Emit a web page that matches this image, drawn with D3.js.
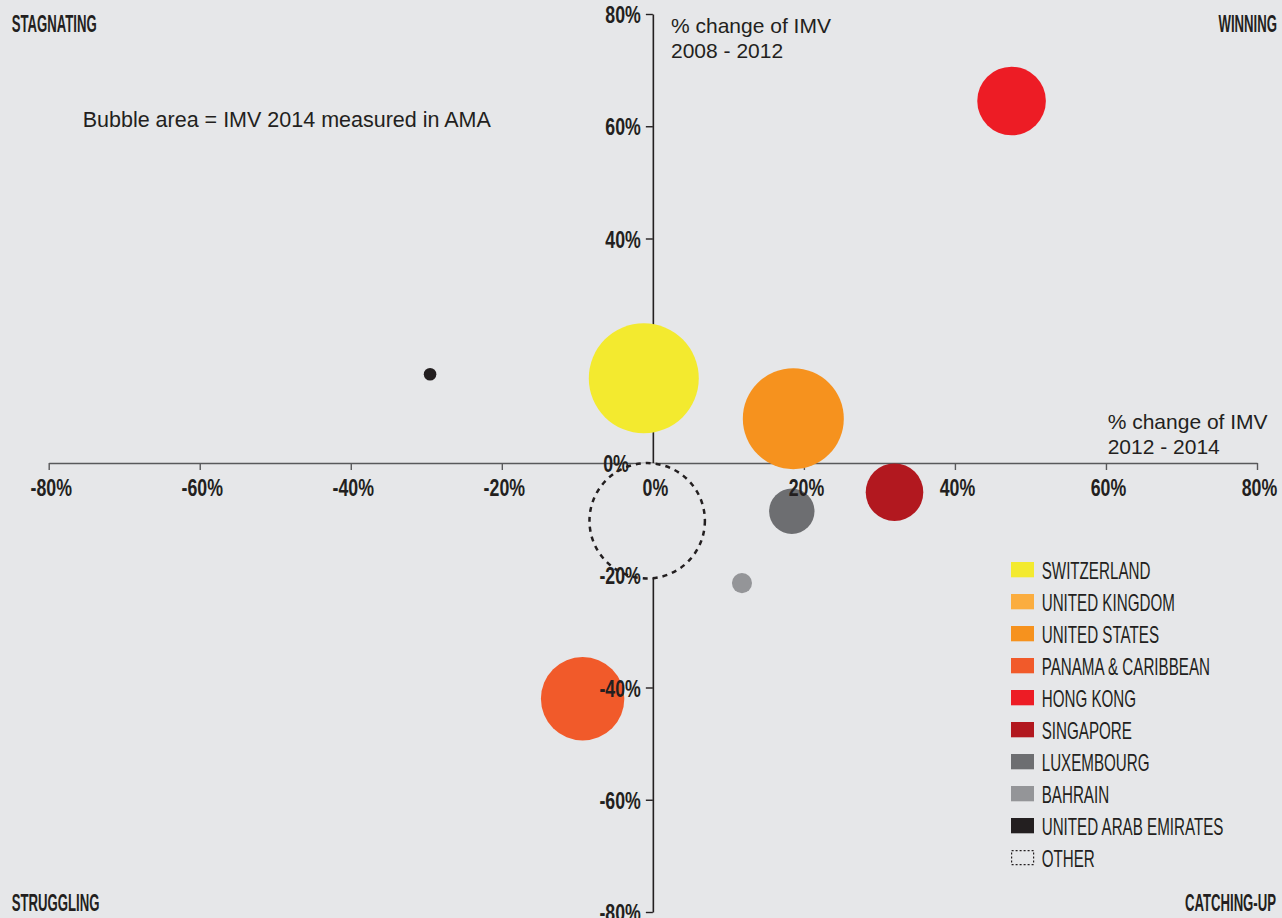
<!DOCTYPE html>
<html>
<head>
<meta charset="utf-8">
<script src="https://cdn.jsdelivr.net/npm/d3@7"></script>
<style>
  body { margin:0; background:#e6e7e9; }
  svg { display:block; }
</style>
</head>
<body>
<div id="chart"></div>
<script>
// data
var countries = ["Switzerland", "United Kingdom", "United States", "Panama & Caribbean", "Hong Kong",
	"Singapore", "Luxembourg", "Bahrain", "United Arab Emirates", "Other"];
var change1214 = [-1.2, null, 18.6, -9.3, 47.5, 32.0, 18.4, 11.8, -29.5, -0.75];   // x
var change0812 = [15.1, null, 7.9, -42.0, 64.5, -5.2, -8.6, -21.4, 15.8, -10.3];    // y
var imv2014 = [84.0, null, 70.8, 48.3, 32.7, 23.0, 14.3, 2.8, 1.1, 92.5];            // bubble area
var colors = ["#f3ea2f", "#fbad3f", "#f6921e", "#f15a2a", "#ed1c25", "#b2181f", "#6d6e71", "#949598", "#231f20", "none"];
var xTicks = [-80, -60, -40, -20, 0, 20, 40, 60, 80];
var yTicks = [-80, -60, -40, -20, 0, 20, 40, 60, 80];
var cornerLabels = ["STAGNATING", "WINNING", "STRUGGLING", "CATCHING-UP"];

var width = 1282, height = 918,
	bg = "#e6e7e9",
	ink = "#231f20",
	font = "'Liberation Sans', Arial, sans-serif";

var svg = d3.select("#chart").append("svg")
	.attr("width", width)
	.attr("height", height);

svg.append("rect").attr("width", width).attr("height", height).attr("fill", bg);

var x = d3.scaleLinear().domain([-80, 80]).range([48.7, 1257]);
var y = d3.scaleLinear().domain([-80, 80]).range([912, 14]);
var r = d3.scaleSqrt().domain([0, 100]).range([0, 60]);

// axis lines and ticks (under the bubbles)
var gx = svg.append("g")
	.attr("transform", "translate(0," + y(0) + ")")
	.call(d3.axisBottom(x).tickValues(xTicks).tickSize(7).tickSizeOuter(0));
gx.selectAll("text").remove();
gx.select(".domain").attr("stroke", "#58595b").attr("stroke-width", 1.6);
gx.selectAll(".tick line").attr("stroke", "#58595b").attr("stroke-width", 1.4);

var gy = svg.append("g")
	.attr("transform", "translate(" + x(0) + ",0)")
	.call(d3.axisLeft(y).tickValues(yTicks).tickSize(7).tickSizeOuter(0));
gy.selectAll("text").remove();
gy.select(".domain").attr("stroke", ink).attr("stroke-width", 1.6);
gy.selectAll(".tick line").attr("stroke", ink).attr("stroke-width", 1.4);

// bubbles
var bubbles = countries.map(function (c, i) {
	return {name: c, x: change1214[i], y: change0812[i], v: imv2014[i], color: colors[i]};
}).filter(function (d) { return d.v != null; });

function drawBubbles(layer, list) {
	layer.selectAll("circle")
		.data(list)
		.enter().append("circle")
		.attr("cx", function (d) { return x(d.x); })
		.attr("cy", function (d) { return y(d.y); })
		.attr("r", function (d) { return r(d.v); })
		.attr("fill", function (d) { return d.color == "none" ? bg : d.color; })
		.attr("stroke", function (d) { return d.color == "none" ? ink : null; })
		.attr("stroke-width", function (d) { return d.color == "none" ? 2.5 : null; })
		.attr("stroke-dasharray", function (d) { return d.color == "none" ? "5,5" : null; });
}
var lowLayer = svg.append("g");

// tick labels (above most bubbles)
var tickK = 0.74, tickSize = "24px";
var gxl = svg.append("g")
	.attr("transform", "translate(0," + y(0) + ")")
	.call(d3.axisBottom(x).tickValues(xTicks).tickSize(0).tickFormat(function (d) { return d + "%"; }));
gxl.select(".domain").remove();
gxl.selectAll(".tick line").remove();
gxl.selectAll("text")
	.attr("x", 2 / tickK)
	.attr("y", 33.5)
	.attr("dy", 0)
	.attr("transform", "scale(" + tickK + ",1)")
	.attr("fill", ink)
	.style("font-family", font)
	.style("font-weight", "bold")
	.style("font-size", tickSize);

var gyl = svg.append("g")
	.attr("transform", "translate(" + x(0) + ",0)")
	.call(d3.axisLeft(y).tickValues(yTicks).tickSize(0).tickFormat(function (d) { return d + "%"; }));
gyl.select(".domain").remove();
gyl.selectAll(".tick line").remove();
gyl.selectAll("text")
	.attr("x", function (d) { return (d == 0 ? -24 : -12) / tickK; })
	.attr("dy", "0.36em")
	.attr("transform", "scale(" + tickK + ",1)")
	.attr("fill", ink)
	.style("font-family", font)
	.style("font-weight", "bold")
	.style("font-size", tickSize);

// Switzerland sits over its 20% label in the original
var topLayer = svg.append("g");
drawBubbles(lowLayer, bubbles.filter(function (d) { return d.name == "Other"; })
	.concat(bubbles.filter(function (d) { return d.name != "Other" && d.name != "Switzerland"; })));
drawBubbles(topLayer, bubbles.filter(function (d) { return d.name == "Switzerland"; }));

// axis titles and note
function multiline(tx, ty, lines, size) {
	var t = svg.append("text")
		.attr("x", tx).attr("y", ty)
		.attr("fill", ink)
		.style("font-family", font)
		.style("font-size", size || "21px");
	lines.forEach(function (l, i) {
		t.append("tspan").attr("x", tx).attr("dy", i ? 25 : 0).text(l);
	});
}
multiline(671, 33.3, ["% change of IMV", "2008 - 2012"]);
multiline(1107.7, 428.5, ["% change of IMV", "2012 - 2014"]);
multiline(82.7, 126.7, ["Bubble area = IMV 2014 measured in AMA"], "21.5px");

// quadrant names
var cornerPos = [[11.7, 32, "start"], [1277, 32, "end"], [11.7, 911, "start"], [1276, 911, "end"]];
svg.append("g").selectAll("text")
	.data(cornerLabels)
	.enter().append("text")
	.attr("transform", function (d, i) { return "translate(" + cornerPos[i][0] + "," + cornerPos[i][1] + ") scale(0.56,1)"; })
	.attr("text-anchor", function (d, i) { return cornerPos[i][2]; })
	.attr("fill", ink)
	.style("font-family", font)
	.style("font-weight", "bold")
	.style("font-size", "23.5px")
	.text(function (d) { return d; });

// legend
var legend = svg.append("g").attr("transform", "translate(1011,571)");
var rows = legend.selectAll("g.row")
	.data(countries)
	.enter().append("g")
	.attr("class", "row")
	.attr("transform", function (d, i) { return "translate(0," + (i * 32) + ")"; });

rows.append("rect")
	.attr("x", function (d, i) { return colors[i] == "none" ? 0.6 : 0; })
	.attr("y", function (d, i) { return colors[i] == "none" ? -8.4 : -9; })
	.attr("width", function (d, i) { return colors[i] == "none" ? 22 : 23; })
	.attr("height", function (d, i) { return colors[i] == "none" ? 14 : 15.3; })
	.attr("fill", function (d, i) { return colors[i] == "none" ? "none" : colors[i]; })
	.attr("stroke", function (d, i) { return colors[i] == "none" ? ink : null; })
	.attr("stroke-width", 1.2)
	.attr("stroke-dasharray", function (d, i) { return colors[i] == "none" ? "2,2" : null; });

rows.append("text")
	.attr("transform", "translate(30.7,8.3) scale(0.66,1)")
	.attr("fill", ink)
	.style("font-family", font)
	.style("font-size", "23px")
	.text(function (d) { return d.toUpperCase(); });
</script>
</body>
</html>
